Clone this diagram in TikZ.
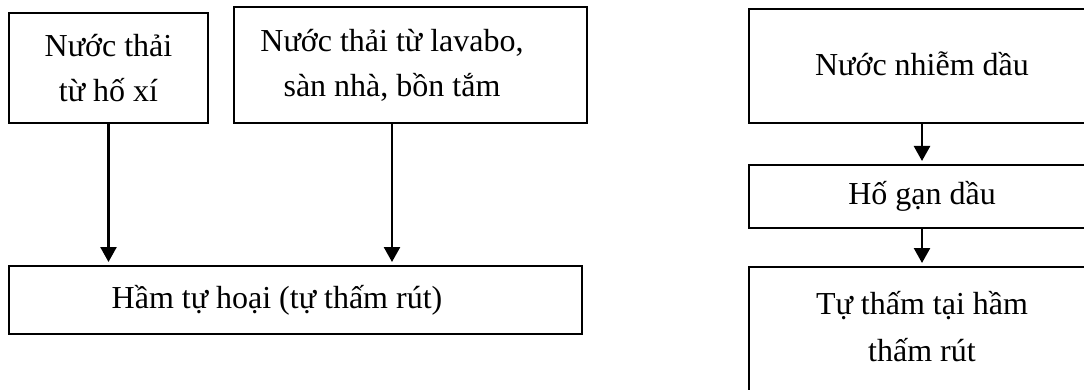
\documentclass[tikz,border=0pt]{standalone}
\usepackage{fontspec}
\setmainfont{Liberation Serif}
\usetikzlibrary{arrows.meta}
\newcommand{\padleftshift}{\hspace*{37pt}}
\tikzset{
  box/.style={draw, line width=2pt, inner sep=0pt, align=center,
    font=\fontsize{32}{45}\selectfont},
  flow/.style={line width=2.5pt, -{Triangle[width=16pt,length=15pt]}, shorten >=3pt}
}
\begin{document}
\begin{tikzpicture}[x=1pt,y=-1pt]
\useasboundingbox (0,0) rectangle (1084,390);
\clip (0,0) rectangle (1084,390);
\node[box, minimum width=199pt, minimum height=110pt] (b1) at (108.5,68) {Nước thải\\từ hố xí};
\node[box, minimum width=353pt, minimum height=116pt] (b2) at (410.5,65) {Nước thải từ lavabo,\padleftshift\\sàn nhà, bồn tắm\padleftshift};
\node[box, minimum width=573pt, minimum height=68pt] (b3) at (295.5,300) {Hầm tự hoại (tự thấm rút)\padleftshift};
\node[box, minimum width=346pt, minimum height=114pt] (r1) at (922,66) {\raisebox{5pt}{Nước nhiễm dầu}};
\node[box, minimum width=346pt, minimum height=63pt] (r2) at (922,196.5) {Hố gạn dầu};
\node[box, anchor=north, minimum width=346pt] (r3) at (922,266)
  {\parbox[c][160pt][t]{340pt}{\centering\fontsize{32}{47}\selectfont\rule{0pt}{47pt}Tự thấm tại hầm\\thấm rút}};
\draw[flow] (b1.south) -- (b1.south |- b3.north);
\draw[flow] ([xshift=-18.5pt]b2.south) -- ([xshift=-18.5pt]b2.south |- b3.north);
\draw[flow] (r1.south) -- (r2.north);
\draw[flow] (r2.south) -- (r3.north);
\end{tikzpicture}
\end{document}
